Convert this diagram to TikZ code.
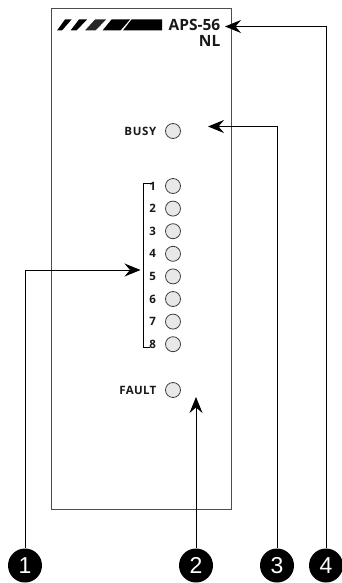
\documentclass[tikz,border=0pt]{standalone}
\usepackage{fontspec}
\setmainfont{Open Sans}
\newfontfamily\calloutfont{Liberation Sans}
\usetikzlibrary{positioning,arrows.meta}

\tikzset{
    led/.style={draw=black!75,fill=black!9,circle,minimum size=15pt,inner sep=0pt,line width=.8pt},
    ledlabel/.style={inner sep=0pt,font=\fontsize{11.5}{13}\bfseries,text=black!90},
    modeltext/.style={inner sep=0pt,anchor=east,font=\fontsize{15.5}{17}\bfseries,text=black!90},
    callout/.style={fill=black,text=white,circle,minimum size=34pt,inner sep=0pt,font=\fontsize{23}{26}\calloutfont},
    pointer/.style={line width=1pt,-{Stealth[length=16pt,width=13pt,inset=5.5pt]}},
    stripe/.style={fill=black}
}

\begin{document}
\begin{tikzpicture}[x=1pt,y=-1pt]
    \useasboundingbox (0,0) rectangle (341,583);
    \node[draw=black!70,line width=.9pt,minimum width=180pt,minimum height=501pt,inner sep=0pt] (panel) at (141.5,258.5) {};

    \fill[stripe] (57,30.5) -- (65,19.5) -- (71.5,19.5) -- (62,30.5) -- cycle;
    \fill[stripe] (70.5,30.5) -- (79,19.5) -- (87,19.5) -- (76.5,30.5) -- cycle;
    \fill[stripe,black!85] (85,30.5) -- (95,19.5) -- (106,19.5) -- (95.5,30.5) -- cycle;
    \fill[stripe] (102.5,30.5) -- (111.5,19.5) -- (130,19.5) -- (120.5,30.5) -- cycle;
    \fill[stripe] (123,30.5) -- (131.5,19.5) -- (162,19.5) -- (162,30.5) -- cycle;

    \node[modeltext] (model) at (220.5,24.5) {APS-56};
    \node[modeltext] (variant) at (220.5,41) {NL};

    \node[led] (busy) at (173,131) {};
    \node[ledlabel,left=8.5pt of busy,font=\fontsize{11.5}{13}\bfseries\addfontfeature{LetterSpace=6}] (busytext) {BUSY};
    \foreach \i in {1,...,8} {
        \node[led] (led\i) at (173,{186+22.6*(\i-1)}) {};
        \node[ledlabel,left=9pt of led\i] (num\i) {\i};
    }
    \node[led] (fault) at (173,390) {};
    \node[ledlabel,left=8.5pt of fault,font=\fontsize{11.5}{13}\bfseries\addfontfeature{LetterSpace=3}] (faulttext) {FAULT};

    \coordinate (bracktop) at (152,183);
    \coordinate (brackbot) at (150,347);
    \coordinate (brackup) at (143,183);
    \coordinate (brackdown) at (143,347);
    \draw[line width=1pt] (bracktop) -- (brackup) -- (brackdown) -- (brackbot);

    \node[callout] (one) at (25,565.5) {1};
    \node[callout] (two) at (196,565.5) {2};
    \node[callout] (three) at (277,565.5) {3};
    \node[callout] (four) at (326,565.5) {4};

    \coordinate (brackmid) at (140.5,270);
    \coordinate (faultmark) at (196,397);
    \coordinate (busymark) at (208,126.5);
    \coordinate (modelmark) at (225,26.5);

    \draw[pointer] (one) |- (brackmid);
    \draw[pointer] (two) -- (faultmark);
    \draw[pointer] (three) |- (busymark);
    \draw[pointer] (four) |- (modelmark);
\end{tikzpicture}
\end{document}
